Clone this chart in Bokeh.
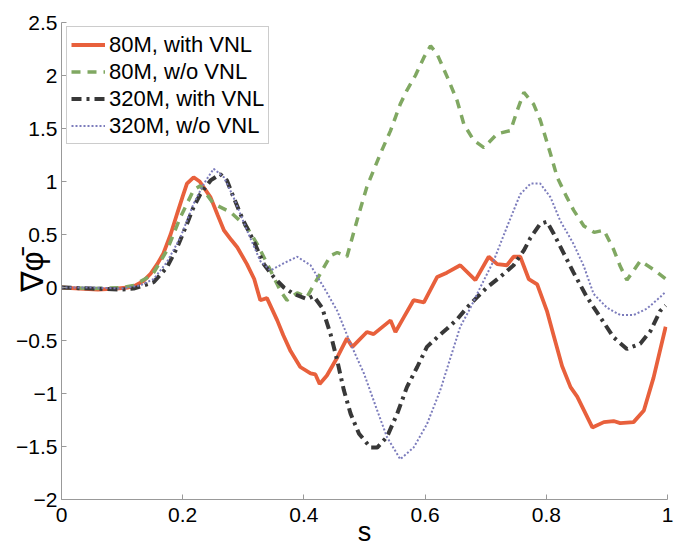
from bokeh.plotting import figure
from bokeh.models import Legend, LegendItem, FixedTicker, Range1d
from bokeh.embed import file_html
from bokeh.resources import INLINE

# 80M, with VNL
s_80_vnl = [0, 0.03, 0.06, 0.09, 0.11, 0.119, 0.135, 0.147, 0.158, 0.168, 0.18, 0.191, 0.2, 0.207,
            0.218, 0.228, 0.246, 0.258, 0.268, 0.28, 0.29, 0.306, 0.318, 0.328, 0.339, 0.356, 0.366,
            0.378, 0.394, 0.411, 0.419, 0.426, 0.438, 0.455, 0.471, 0.48, 0.504, 0.515, 0.543, 0.551,
            0.565, 0.581, 0.598, 0.62, 0.636, 0.658, 0.683, 0.705, 0.719, 0.735, 0.746, 0.757, 0.771,
            0.785, 0.801, 0.812, 0.826, 0.84, 0.851, 0.876, 0.895, 0.911, 0.922, 0.944, 0.961, 0.977,
            0.997]
y_80_vnl = [0, -0.01, -0.02, -0.01, 0.0, 0.01, 0.06, 0.13, 0.22, 0.32, 0.5, 0.70, 0.86, 0.98,
            1.04, 1.0, 0.85, 0.68, 0.54, 0.45, 0.38, 0.22, 0.08, -0.12, -0.10, -0.31, -0.45,
            -0.6, -0.75, -0.81, -0.82, -0.91, -0.83, -0.66, -0.48, -0.56, -0.42, -0.44, -0.31, -0.42,
            -0.28, -0.12, -0.14, 0.10, 0.14, 0.21, 0.07, 0.29, 0.22, 0.21, 0.29, 0.29, 0.08,
            0.03, -0.22, -0.45, -0.74, -0.94, -1.03, -1.32, -1.27, -1.26, -1.28, -1.27, -1.16, -0.85,
            -0.37]

# 80M, w/o VNL
s_80_novnl = [0, 0.05, 0.1, 0.119, 0.15, 0.174, 0.196, 0.218, 0.229, 0.251, 0.279, 0.306, 0.323,
              0.345, 0.361, 0.372, 0.389, 0.405, 0.427, 0.444, 0.455, 0.471, 0.491, 0.504, 0.526,
              0.543, 0.559, 0.57, 0.584, 0.598, 0.609, 0.62, 0.637, 0.653, 0.664, 0.68, 0.697, 0.719,
              0.741, 0.752, 0.763, 0.779, 0.79, 0.807, 0.818, 0.834, 0.845, 0.862, 0.879, 0.895,
              0.911, 0.922, 0.933, 0.955, 0.977, 0.997]
y_80_novnl = [0, -0.01, 0.0, 0.02, 0.12, 0.35, 0.66, 0.92, 0.96, 0.79, 0.71, 0.57, 0.41,
              0.16, -0.03, -0.12, -0.05, -0.09, 0.13, 0.30, 0.33, 0.29, 0.70, 0.95, 1.26,
              1.48, 1.73, 1.86, 2.0, 2.17, 2.28, 2.20, 1.98, 1.76, 1.54, 1.39, 1.32, 1.45,
              1.48, 1.67, 1.84, 1.73, 1.58, 1.26, 1.04, 0.85, 0.73, 0.58, 0.52, 0.54,
              0.36, 0.20, 0.07, 0.25, 0.17, 0.08]

# 320M, with VNL
s_320_vnl = [0, 0.05, 0.1, 0.119, 0.152, 0.174, 0.191, 0.207, 0.218, 0.229, 0.246, 0.262, 0.273,
             0.284, 0.3, 0.317, 0.334, 0.35, 0.367, 0.383, 0.405, 0.416, 0.43, 0.444, 0.455, 0.466,
             0.477, 0.491, 0.51, 0.521, 0.537, 0.554, 0.57, 0.587, 0.603, 0.62, 0.636, 0.653, 0.669,
             0.686, 0.702, 0.724, 0.746, 0.763, 0.774, 0.79, 0.801, 0.812, 0.829, 0.845, 0.867,
             0.889, 0.911, 0.933, 0.955, 0.972, 0.988, 0.997]
y_320_vnl = [0, -0.01, -0.02, -0.01, 0.05, 0.19, 0.38, 0.60, 0.76, 0.88, 1.01, 1.07, 1.01,
             0.85, 0.63, 0.44, 0.22, 0.10, 0.0, -0.06, -0.11, -0.08, -0.19, -0.44, -0.69, -0.97,
             -1.19, -1.38, -1.51, -1.51, -1.41, -1.19, -0.94, -0.75, -0.56, -0.47, -0.39, -0.30, -0.19,
             -0.09, 0.0, 0.10, 0.21, 0.35, 0.47, 0.60, 0.62, 0.51, 0.32, 0.14, -0.09,
             -0.28, -0.47, -0.58, -0.53, -0.41, -0.22, -0.17]

# 320M, w/o VNL
s_320_novnl = [0, 0.05, 0.1, 0.13, 0.152, 0.174, 0.196, 0.218, 0.235, 0.251, 0.268, 0.284, 0.306,
               0.328, 0.345, 0.367, 0.389, 0.411, 0.433, 0.455, 0.477, 0.499, 0.521, 0.537, 0.559,
               0.581, 0.603, 0.625, 0.642, 0.658, 0.675, 0.691, 0.713, 0.735, 0.757, 0.774, 0.79,
               0.807, 0.823, 0.845, 0.862, 0.878, 0.9, 0.922, 0.944, 0.966, 0.988, 0.997]
y_320_novnl = [0, 0.0, -0.01, 0.02, 0.08, 0.24, 0.47, 0.79, 0.98, 1.12, 1.04, 0.85, 0.54,
               0.25, 0.16, 0.23, 0.29, 0.21, 0.0, -0.22, -0.53, -0.81, -1.16, -1.41, -1.62,
               -1.51, -1.29, -0.97, -0.66, -0.37, -0.19, 0.0, 0.25, 0.57, 0.88, 0.98, 0.98,
               0.85, 0.63, 0.41, 0.20, -0.06, -0.19, -0.26, -0.26, -0.20, -0.09, -0.04]

series_labels = ["80M, with VNL", "80M, w/o VNL", "320M, with VNL", "320M, w/o VNL"]
x_ticks = [0, 0.2, 0.4, 0.6, 0.8, 1]
y_ticks = [-2, -1.5, -1, -0.5, 0, 0.5, 1, 1.5, 2, 2.5]
x_title = "s"
y_title = "\u2207\u03c6\u0304"

FONT = "Liberation Sans"

p = figure(width=681, height=554, output_backend="svg", toolbar_location=None,
           x_range=Range1d(0, 1), y_range=Range1d(-2, 2.5),
           min_border_left=61, min_border_right=14, min_border_top=22, min_border_bottom=55)
p.outline_line_color = None
p.xgrid.grid_line_color = None
p.ygrid.grid_line_color = None
p.background_fill_color = "white"

r1 = p.line(s_80_vnl, y_80_vnl, line_color="#e8603c", line_width=3.8)
r2 = p.line(s_80_novnl, y_80_novnl, line_color="#80a862", line_width=3.5, line_dash="9 7")
r3 = p.line(s_320_vnl, y_320_vnl, line_color="#383838", line_width=4, line_dash="10 5 3 5")
r4 = p.line(s_320_novnl, y_320_novnl, line_color="#7c7cbc", line_width=2, line_dash="2 2")

for ax in (p.xaxis[0], p.yaxis[0]):
    ax.axis_line_color = "#999999"
    ax.major_tick_line_color = "#999999"
    ax.major_tick_in = 5
    ax.major_tick_out = 0
    ax.minor_tick_line_color = None
    ax.major_label_text_font = FONT
    ax.major_label_text_font_size = "21px"
    ax.major_label_text_color = "black"
    ax.axis_label_text_font = FONT
    ax.axis_label_text_font_style = "normal"
    ax.axis_label_text_color = "black"

p.xaxis.ticker = FixedTicker(ticks=x_ticks)
p.yaxis.ticker = FixedTicker(ticks=y_ticks)
p.xaxis.major_label_overrides = {t: ("%g" % t) for t in x_ticks}
p.yaxis.major_label_overrides = {t: ("%g" % t).replace("-", "\u2212") for t in y_ticks}
p.xaxis.major_label_standoff = 8
p.yaxis.major_label_standoff = 4

# axis titles, pulled in close to the tick labels
p.xaxis.axis_label = x_title
p.xaxis.axis_label_text_font_size = "27px"
p.xaxis.axis_label_standoff = -8
p.yaxis.axis_label = y_title + "\u2002\u2009"
p.yaxis.axis_label_text_font_size = "31px"
p.yaxis.axis_label_standoff = -37

legend = Legend(items=[LegendItem(label=lab, renderers=[r]) for lab, r in
                       zip(series_labels, [r1, r2, r3, r4])],
                location=(5, 355))
legend.label_text_font = FONT
legend.label_text_font_size = "22px"
legend.label_text_color = "black"
legend.border_line_color = "#999999"
legend.border_line_width = 1
legend.background_fill_alpha = 1
legend.padding = 4
legend.spacing = 0
legend.margin = 0
legend.glyph_width = 34
legend.glyph_height = 27
legend.label_height = 27
legend.label_standoff = 4
p.add_layout(legend, "center")

open("out.html", "w").write(file_html(p, INLINE))
